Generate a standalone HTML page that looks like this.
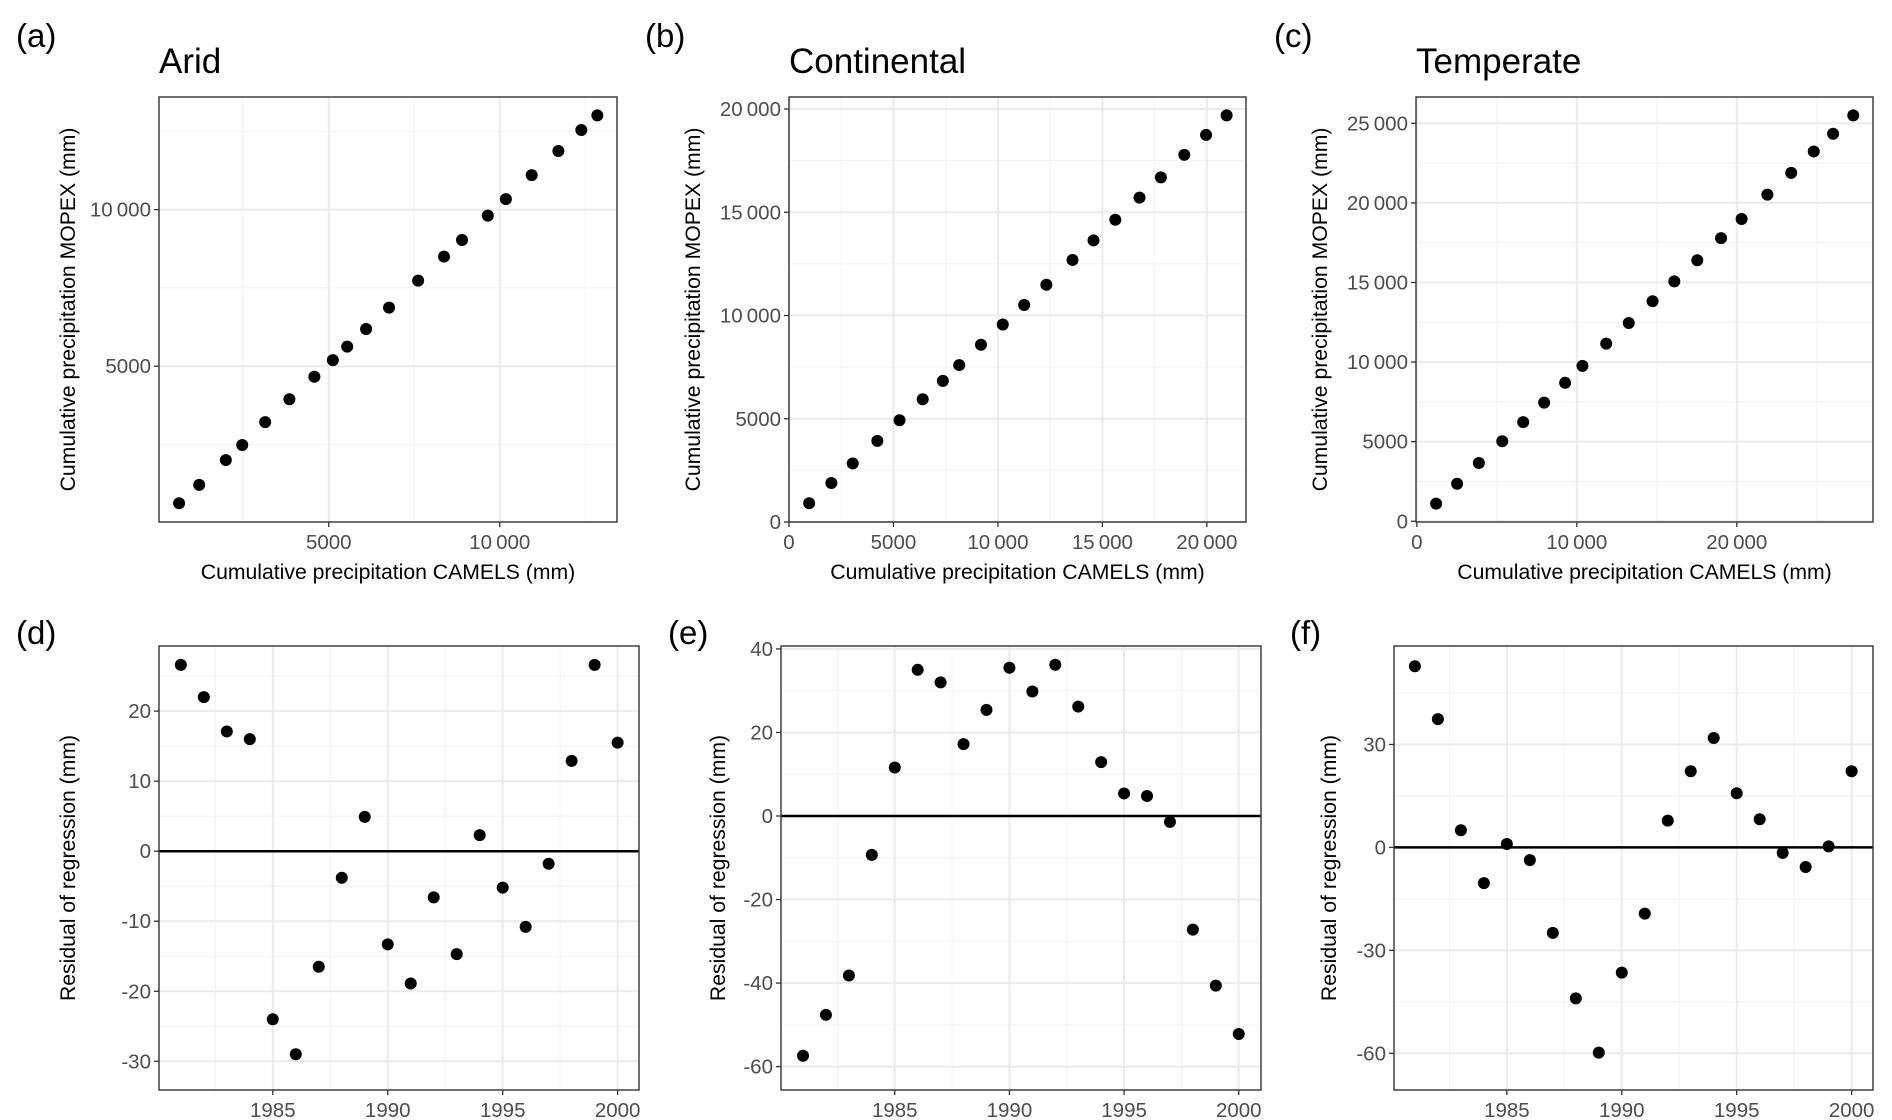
<!DOCTYPE html>
<html><head><meta charset="utf-8"><style>
html,body{margin:0;padding:0;background:#fff}
svg{display:block}
text{font-family:"Liberation Sans",Arial,sans-serif}
</style></head><body>
<svg id="fig" width="1892" height="1120" viewBox="0 0 1892 1120" xmlns="http://www.w3.org/2000/svg"></svg>
<script>
const years = [1981,1982,1983,1984,1985,1986,1987,1988,1989,1990,1991,1992,1993,1994,1995,1996,1997,1998,1999,2000];
const aridCamels = [623,1211,1990,2470,3141,3849,4580,5120,5540,6091,6763,7614,8370,8897,9652,10180,10935,11715,12386,12854];
const aridMopex  = [623,1211,2002,2482,3213,3945,4664,5192,5624,6187,6871,7734,8501,9029,9808,10336,11103,11871,12542,13010];
const contCamels = [965,2027,3050,4228,5290,6400,7365,8147,9189,10232,11255,12317,13571,14575,15618,16776,17799,18919,19961,20946];
const contMopex  = [909,1891,2836,3927,4927,5945,6836,7600,8582,9564,10509,11491,12691,13636,14636,15709,16691,17782,18745,19691];
const tempCamels = [1209,2519,3879,5340,6650,7960,9270,10353,11839,13249,14736,16096,17531,19018,20302,21914,23401,24811,26020,27280];
const tempMopex  = [1108,2358,3656,5024,6226,7453,8703,9764,11156,12453,13821,15071,16392,17783,18986,20519,21887,23231,24340,25495];
const aridResid = [26.6,22.0,17.1,16.0,-24.0,-29.0,-16.5,-3.8,4.9,-13.3,-18.9,-6.6,-14.7,2.3,-5.2,-10.8,-1.8,12.9,26.6,15.5];
const contResid = [-57.4,-47.6,-38.2,-9.3,11.6,35.0,32.0,17.2,25.4,35.5,29.8,36.2,26.2,12.9,5.4,4.8,-1.4,-27.2,-40.6,-52.2];
const tempResid = [52.8,37.4,5.0,-10.4,1.0,-3.7,-24.9,-44.0,-59.8,-36.5,-19.3,7.8,22.2,31.9,15.8,8.2,-1.6,-5.7,0.3,22.2];
const yearTicks = [1985,1990,1995,2000];
const aridXTicks = [5000,10000];
const aridYTicks = [5000,10000];
const contTicks = [0,5000,10000,15000,20000];
const tempXTicks = [0,10000,20000];
const tempYTicks = [0,5000,10000,15000,20000,25000];
const dTicks = [-30,-20,-10,0,10,20];
const eTicks = [-60,-40,-20,0,20,40];
const fTicks = [-60,-30,0,30];

const NS='http://www.w3.org/2000/svg';
const svg=document.getElementById('fig');
function mk(tag,attrs,parent){const e=document.createElementNS(NS,tag);for(const k in attrs)e.setAttribute(k,attrs[k]);(parent||svg).appendChild(e);return e;}
function fmt(v){const a=Math.abs(v);let s=String(a);if(a>=10000){s=s.slice(0,s.length-3)+'\u2009'+s.slice(-3);}return (v<0?'-':'')+s;}

function panel(o){
  const g=mk('g',{});
  
  
  const sx=v=>o.x0+(v-o.xd[0])/(o.xd[1]-o.xd[0])*(o.x1-o.x0);
  const sy=v=>o.y1-(v-o.yd[0])/(o.yd[1]-o.yd[0])*(o.y1-o.y0);
  o.xMinor.forEach(v=>{const l=mk('line',{x1:sx(v),x2:sx(v),y1:o.y0,y2:o.y1,stroke:'#f2f2f2','stroke-width':1},g);});
  o.yMinor.forEach(v=>{const l=mk('line',{x1:o.x0,x2:o.x1,y1:sy(v),y2:sy(v),stroke:'#f2f2f2','stroke-width':1},g);});
  o.xTicks.forEach(v=>{const l=mk('line',{x1:sx(v),x2:sx(v),y1:o.y0,y2:o.y1,stroke:'#ebebeb','stroke-width':2},g);});
  o.yTicks.forEach(v=>{const l=mk('line',{x1:o.x0,x2:o.x1,y1:sy(v),y2:sy(v),stroke:'#ebebeb','stroke-width':2},g);});
  if(o.zero){const z=mk('line',{x1:o.x0,x2:o.x1,y1:sy(0),y2:sy(0),stroke:'#000','stroke-width':2.5},g);}
  o.xs.forEach((xv,i)=>{const c=mk('circle',{cx:sx(xv),cy:sy(o.ys[i]),r:6,fill:'#000'},g);});
  const b=mk('rect',{x:o.x0,y:o.y0,width:o.x1-o.x0,height:o.y1-o.y0,fill:'none',stroke:'#333','stroke-width':1.4},g);
  
  o.xTicks.forEach(v=>{
    const t=mk('line',{x1:sx(v),x2:sx(v),y1:o.y1,y2:o.y1+5,stroke:'#333','stroke-width':1.3},g);
    const tx=mk('text',{x:sx(v),y:o.y1+27,'text-anchor':'middle','font-size':20.5,fill:'#4d4d4d'},g);tx.textContent=fmt(v);
  });
  o.yTicks.forEach(v=>{
    const t=mk('line',{x1:o.x0-5,x2:o.x0,y1:sy(v),y2:sy(v),stroke:'#333','stroke-width':1.3},g);
    const tx=mk('text',{x:o.x0-8,y:sy(v)+7,'text-anchor':'end','font-size':20.5,fill:'#4d4d4d'},g);tx.textContent=fmt(v);
  });
  if(o.xTitle){const t=mk('text',{x:(o.x0+o.x1)/2,y:o.y1+57,'text-anchor':'middle','font-size':21.2,fill:'#000'},g);t.textContent=o.xTitle;}
  const cy=(o.y0+o.y1)/2;
  const yt=mk('text',{x:o.yTitleX,y:cy,'text-anchor':'middle','font-size':21.2,fill:'#000',transform:'rotate(-90 '+o.yTitleX+' '+cy+')'},g);
  yt.textContent=o.yTitle;
  const lb=mk('text',{x:o.labX,y:o.labY,'font-size':33,fill:'#000'},g);lb.textContent=o.label;
  if(o.title){const t=mk('text',{x:o.x0,y:73,'font-size':35,fill:'#000'},g);t.textContent=o.title;}
}
const YT='Cumulative precipitation MOPEX (mm)', XT='Cumulative precipitation CAMELS (mm)', RT='Residual of regression (mm)';
const top0=97, top1=522, bot0=646, bot1=1090;
const yrMinor=[1982.5,1987.5,1992.5,1997.5];
panel({name:'arid',label:'(a)',title:'Arid',labX:16,labY:47,x0:159,x1:617,y0:top0,y1:top1,xd:[36,13429],yd:[24,13597],
  xTicks:aridXTicks,yTicks:aridYTicks,xMinor:[2500,7500,12500],yMinor:[2500,7500,12500],xs:aridCamels,ys:aridMopex,xTitle:XT,yTitle:YT,yTitleX:75});
panel({name:'continental',label:'(b)',title:'Continental',labX:645,labY:47,x0:789,x1:1246,y0:top0,y1:top1,xd:[0,21873],yd:[0,20582],
  xTicks:contTicks,yTicks:contTicks,xMinor:[2500,7500,12500,17500],yMinor:[2500,7500,12500,17500],xs:contCamels,ys:contMopex,xTitle:XT,yTitle:YT,yTitleX:700});
panel({name:'temperate',label:'(c)',title:'Temperate',labX:1274,labY:47,x0:1416,x1:1873,y0:top0,y1:top1,xd:[-50,28514],yd:[-47,26651],
  xTicks:tempXTicks,yTicks:tempYTicks,xMinor:[5000,15000,25000],yMinor:[2500,7500,12500,17500,22500],xs:tempCamels,ys:tempMopex,xTitle:XT,yTitle:YT,yTitleX:1327});
panel({name:'arid-residual',label:'(d)',labX:16,labY:644,x0:159,x1:639,y0:bot0,y1:bot1,xd:[1980.05,2000.93],yd:[-34.1,29.3],
  xTicks:yearTicks,yTicks:dTicks,xMinor:yrMinor,yMinor:[-25,-15,-5,5,15,25],xs:years,ys:aridResid,zero:true,yTitle:RT,yTitleX:75});
panel({name:'continental-residual',label:'(e)',labX:668,labY:644,x0:781,x1:1261,y0:bot0,y1:bot1,xd:[1980.04,2000.97],yd:[-65.6,40.7],
  xTicks:yearTicks,yTicks:eTicks,xMinor:yrMinor,yMinor:[-50,-30,-10,10,30],xs:years,ys:contResid,zero:true,yTitle:RT,yTitleX:725});
panel({name:'temperate-residual',label:'(f)',labX:1290,labY:644,x0:1394,x1:1873,y0:bot0,y1:bot1,xd:[1980.09,2000.93],yd:[-70.7,58.7],
  xTicks:yearTicks,yTicks:fTicks,xMinor:yrMinor,yMinor:[-45,-15,15,45],xs:years,ys:tempResid,zero:true,yTitle:RT,yTitleX:1336});
</script>
</body></html>
